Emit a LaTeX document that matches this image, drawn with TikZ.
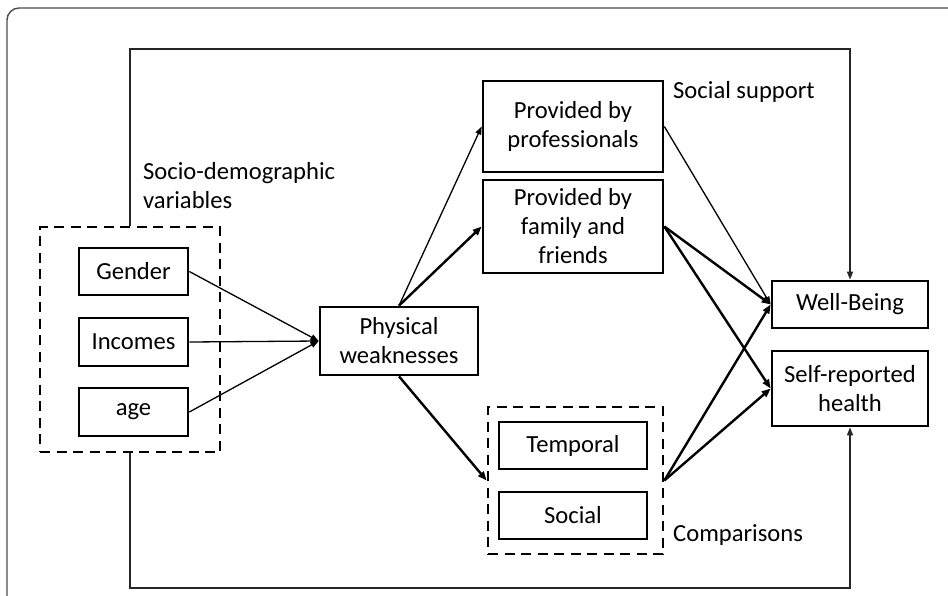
\documentclass[tikz,border=0pt]{standalone}
\usepackage{fontspec}
\setmainfont{Carlito}
\usetikzlibrary{arrows.meta}

\begin{document}
\begin{tikzpicture}[x=1pt,y=-1pt,
	every node/.style={font=\fontsize{24.6}{29}\selectfont, inner sep=0pt},
	box/.style={draw, line width=2.7pt, align=center},
	grp/.style={draw, line width=2.7pt, dash pattern=on 10pt off 6.5pt},
	thinarr/.style={line width=1.3pt, -{Triangle[length=8pt,width=6pt]}},
	thickarr/.style={line width=2.4pt, -{Triangle[length=9pt,width=7pt]}},
	loopline/.style={line width=1.4pt, draw=black!85, -{Triangle[length=8pt,width=6pt]}}]
		\useasboundingbox (0,0) rectangle (948,595);
		\clip (0,0) rectangle (948,595);
		\draw [black!70, line width=1.4pt, rounded corners=12pt] (7,640) -- (7,8) -- (990,8);
		\node [grp, minimum width=180pt, minimum height=225pt] (socio) at (130,339.5) {};
		\node [box, minimum width=109pt, minimum height=47pt] (gender) at (133.5,271.5) {Gender};
		\node [box, minimum width=109pt, minimum height=48pt] (incomes) at (133.5,342) {Incomes};
		\node [box, minimum width=109pt, minimum height=48pt] (age) at (133.5,412) {age};
		\node [anchor=west, align=left] (sociolbl) at (143,186) {Socio-demographic\\variables};
		\node [box, minimum width=158pt, minimum height=68pt] (phys) at (399,341) {Physical\\weaknesses};
		\node [box, minimum width=180pt, minimum height=91pt] (prof) at (573,126.5) {Provided by\\professionals};
		\node [box, minimum width=180pt, minimum height=93pt] (family) at (573,226.5) {Provided by\\family and\\friends};
		\node [anchor=west] (suplbl) at (673,92) {Social support};
		\node [grp, minimum width=175pt, minimum height=147pt] (comp) at (575.5,480.5) {};
		\node [box, minimum width=148pt, minimum height=47pt] (temporal) at (573,445.5) {Temporal};
		\node [box, minimum width=148pt, minimum height=47pt] (social) at (573,515.5) {Social};
		\node [anchor=west] (complbl) at (673,535) {Comparisons};
		\node [box, minimum width=156pt, minimum height=47pt] (wellbeing) at (850,304.5) {Well-Being};
		\node [box, minimum width=156pt, minimum height=75pt] (health) at (850,388.5) {Self-reported\\health};
		\coordinate (ltop) at (130,49);
		\coordinate (lbot) at (130,588);
		\draw [loopline] (socio.north) -- (ltop) -| (wellbeing.north);
		\draw [loopline] (socio.south) -- (lbot) -| (health.south);
		\draw [thinarr] (gender.east) -- (phys.west);
		\draw [thinarr] (incomes.east) -- (phys.west);
		\draw [thinarr] (age.east) -- (phys.west);
		\draw [thinarr] (phys.north) -- (prof.west);
		\draw [thickarr] (phys.north) -- (family.west);
		\draw [thickarr] (phys.south) -- (comp.west);
		\draw [thinarr] (prof.east) -- (wellbeing.west);
		\draw [thickarr] (family.east) -- (wellbeing.west);
		\draw [thickarr] (family.east) -- (health.west);
		\draw [thickarr] (comp.east) -- (wellbeing.west);
		\draw [thickarr] (comp.east) -- (health.west);
\end{tikzpicture}
\end{document}
